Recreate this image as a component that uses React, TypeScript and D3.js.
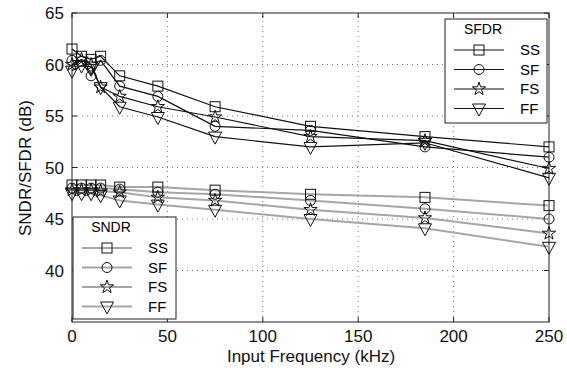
import React, { useEffect, useRef } from 'react';
import * as d3 from 'd3';

const freqs = [0, 5, 10, 15, 25, 45, 75, 125, 185, 250];
const series = ['SS', 'SF', 'FS', 'FF'];

const sfdrSS = [61.5, 60.8, 60.5, 60.8, 58.9, 57.9, 55.9, 54.0, 53.0, 52.0];
const sfdrSF = [60.4, 60.3, 58.9, 60.4, 57.9, 56.9, 54.0, 53.6, 52.0, 51.0];
const sfdrFS = [60.0, 60.5, 60.0, 57.8, 56.9, 55.9, 54.9, 53.0, 52.6, 49.9];
const sfdrFF = [59.4, 59.9, 59.8, 57.8, 55.9, 54.9, 53.0, 52.0, 52.4, 49.0];

const sndrSS = [48.3, 48.3, 48.3, 48.3, 48.1, 48.1, 47.8, 47.4, 47.1, 46.3];
const sndrSF = [48.0, 48.0, 48.0, 48.0, 47.9, 47.6, 47.4, 46.8, 46.0, 45.0];
const sndrFS = [47.8, 47.8, 47.8, 47.7, 47.6, 47.1, 46.8, 45.9, 45.1, 43.6];
const sndrFF = [47.5, 47.5, 47.5, 47.3, 46.8, 46.4, 45.9, 45.0, 44.1, 42.3];

const xTicks = [0, 50, 100, 150, 200, 250];
const yTicks = [40, 45, 50, 55, 60, 65];

const W = 567;
const H = 370;
const FONT = 'Liberation Sans, Arial, sans-serif';
const SNDR_COLOR = '#a6a6a6';

function drawMarker(g: any, kind: string, x: number, y: number) {
  const m = g.append('g').attr('transform', `translate(${x},${y})`)
    .attr('fill', 'none').attr('stroke', '#111').attr('stroke-width', 1);
  if (kind === 'SS') {
    m.append('rect').attr('x', -5).attr('y', -5).attr('width', 10).attr('height', 10);
  } else if (kind === 'SF') {
    m.append('circle').attr('r', 5);
  } else if (kind === 'FS') {
    m.append('path').attr('d', d3.symbol(d3.symbolStar, 55)());
  } else {
    m.append('path').attr('d', 'M-6.5,-4.5 L6.5,-4.5 L0,7.5 Z');
  }
}

export default function App() {
  const ref = useRef<SVGSVGElement>(null);

  useEffect(() => {
    const svg = d3.select(ref.current);
    svg.selectAll('*').remove();

    const x = d3.scaleLinear().domain([0, 250]).range([72, 549]);
    const y = d3.scaleLinear().domain([35, 65]).range([322, 13]);

    svg.append('rect').attr('width', W).attr('height', H).attr('fill', 'white');

    // grid
    const grid = svg.append('g').attr('stroke', '#777').attr('stroke-width', 1)
      .attr('stroke-dasharray', '1,4');
    xTicks.slice(1, -1).forEach(t => {
      grid.append('line').attr('x1', x(t)).attr('x2', x(t)).attr('y1', y(35)).attr('y2', y(65));
    });
    yTicks.slice(0, -1).forEach(t => {
      grid.append('line').attr('x1', x(0)).attr('x2', x(250)).attr('y1', y(t)).attr('y2', y(t));
    });

    // box
    svg.append('rect').attr('x', 72).attr('y', 13).attr('width', 477).attr('height', 309)
      .attr('fill', 'none').attr('stroke', '#222').attr('stroke-width', 1);

    // ticks
    const tk = svg.append('g').attr('stroke', '#222');
    xTicks.forEach(t => {
      tk.append('line').attr('x1', x(t)).attr('x2', x(t)).attr('y1', 322).attr('y2', 317);
      tk.append('line').attr('x1', x(t)).attr('x2', x(t)).attr('y1', 13).attr('y2', 18);
    });
    yTicks.forEach(t => {
      tk.append('line').attr('x1', 72).attr('x2', 77).attr('y1', y(t)).attr('y2', y(t));
      tk.append('line').attr('x1', 549).attr('x2', 544).attr('y1', y(t)).attr('y2', y(t));
    });

    const lbl = svg.append('g').attr('font-family', FONT).attr('font-size', 17).attr('fill', '#111');
    xTicks.forEach(t => {
      lbl.append('text').attr('x', x(t)).attr('y', 342).attr('text-anchor', 'middle').text(t);
    });
    yTicks.forEach(t => {
      lbl.append('text').attr('x', 64).attr('y', y(t) + 6).attr('text-anchor', 'end').text(t);
    });
    lbl.append('text').attr('x', 311).attr('y', 362).attr('text-anchor', 'middle').text('Input Frequency (kHz)');
    lbl.append('text').attr('transform', `translate(31,168) rotate(-90)`).attr('text-anchor', 'middle')
      .text('SNDR/SFDR (dB)');

    const line = d3.line<number>().x((_, i) => x(freqs[i])).y(d => y(d));

    const sndr = [sndrSS, sndrSF, sndrFS, sndrFF];
    const sfdr = [sfdrSS, sfdrSF, sfdrFS, sfdrFF];

    sndr.forEach(vals => {
      svg.append('path').attr('d', line(vals)).attr('fill', 'none')
        .attr('stroke', SNDR_COLOR).attr('stroke-width', 2);
    });
    sndr.forEach((vals, k) => {
      vals.forEach((v, i) => drawMarker(svg, series[k], x(freqs[i]), y(v)));
    });
    sfdr.forEach(vals => {
      svg.append('path').attr('d', line(vals)).attr('fill', 'none')
        .attr('stroke', '#111').attr('stroke-width', 1.2);
    });
    sfdr.forEach((vals, k) => {
      vals.forEach((v, i) => drawMarker(svg, series[k], x(freqs[i]), y(v)));
    });

    // legends
    const legend = (lx: number, ly: number, w: number, h: number, title: string,
      color: string, sw: number) => {
      const lg = svg.append('g');
      lg.append('rect').attr('x', lx).attr('y', ly).attr('width', w).attr('height', h)
        .attr('fill', 'white').attr('stroke', '#222');
      lg.append('text').attr('x', lx + 38).attr('y', ly + 15).attr('text-anchor', 'middle')
        .attr('font-family', FONT).attr('font-size', 14).text(title);
      series.forEach((s, i) => {
        const ry = ly + 31 + i * 19.5;
        lg.append('line').attr('x1', lx + 9).attr('x2', lx + 59).attr('y1', ry).attr('y2', ry)
          .attr('stroke', color).attr('stroke-width', sw);
        drawMarker(lg, s, lx + 34, ry);
        lg.append('text').attr('x', lx + 75).attr('y', ry + 5).attr('font-family', FONT)
          .attr('font-size', 15).text(s);
      });
    };
    legend(445, 19, 102, 104, 'SFDR', '#111', 1.2);
    legend(73, 217, 103, 102, 'SNDR', SNDR_COLOR, 2);
  }, []);

  return <svg ref={ref} width={W} height={H} style={{ position: 'absolute', left: 0, top: 0 }} />;
}
